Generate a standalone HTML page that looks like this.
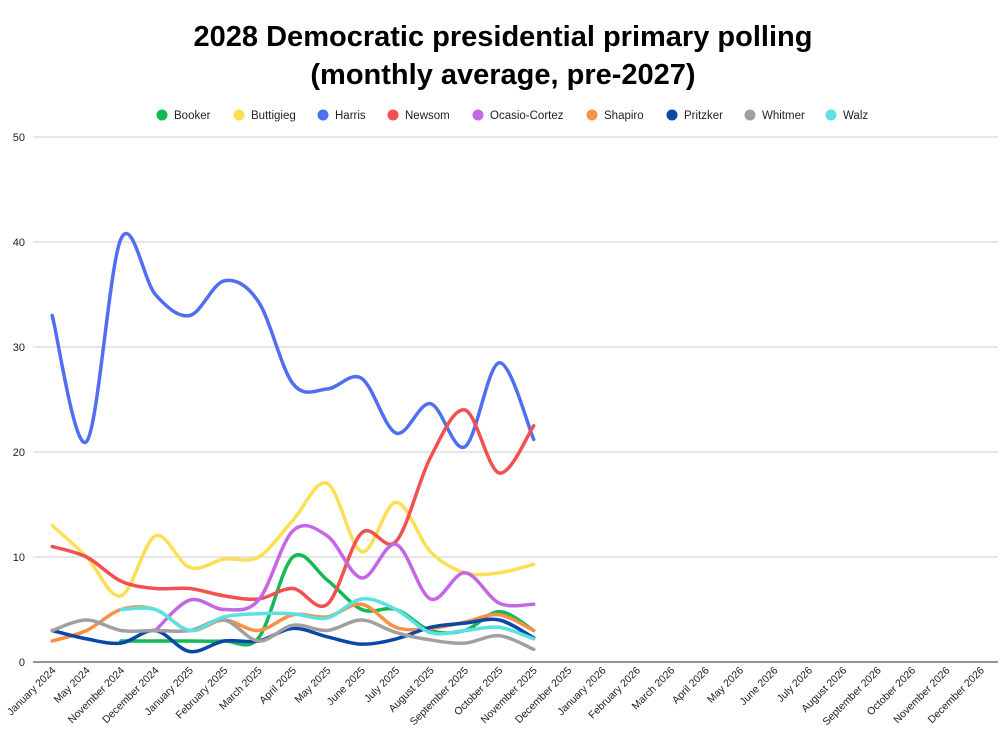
<!DOCTYPE html>
<html><head><meta charset="utf-8"><style>
body{margin:0;background:#fff;font-family:"Liberation Sans",sans-serif}
</style></head><body>
<svg id="c" width="1000" height="750" xmlns="http://www.w3.org/2000/svg" style="font-family:'Liberation Sans',sans-serif">
<text x="503" y="46" text-anchor="middle" font-size="29" font-weight="bold">2028 Democratic presidential primary polling</text>
<text x="503" y="84" text-anchor="middle" font-size="29" font-weight="bold">(monthly average, pre-2027)</text>
<g id="grid"></g><g id="legend"></g><g id="lines"></g><g id="xl"></g>
</svg>
<script>
const categories=["January 2024","May 2024","November 2024","December 2024","January 2025","February 2025","March 2025","April 2025","May 2025","June 2025","July 2025","August 2025","September 2025","October 2025","November 2025","December 2025","January 2026","February 2026","March 2026","April 2026","May 2026","June 2026","July 2026","August 2026","September 2026","October 2026","November 2026","December 2026"];
const yTicks=[0,10,20,30,40,50];
const seriesNames=["Booker","Buttigieg","Harris","Newsom","Ocasio-Cortez","Shapiro","Pritzker","Whitmer","Walz"];
const seriesColors=["#13b955","#fddf56","#4f6ff0","#f25150","#c566e6","#fa8f46","#0b47a6","#a0a0a0","#5be0e3"];
const booker=[null,null,2,2,2,2,2.3,10,7.8,5,5,3,3,4.8,3];
const buttigieg=[13,10,6.3,12,9,9.8,10,13.5,17,10.5,15.2,10.5,8.5,8.5,9.3];
const harris=[33,21,40.3,35,33,36.3,34.3,26.5,26,27,21.8,24.6,20.5,28.5,21.2];
const newsom=[11,10,7.7,7,7,6.3,6,7,5.5,12.3,11.5,19.5,24,18,22.5];
const ocasio=[null,null,null,3,5.9,5,5.9,12.5,12,8,11.2,6,8.5,5.6,5.5];
const shapiro=[2,3,5,5,3,4,3,4.5,4.3,5.5,3.3,3.2,3.8,4.5,3];
const pritzker=[3,2.2,1.8,3,1,2,2,3.2,2.4,1.7,2.2,3.3,3.7,4,2.3];
const whitmer=[3,4,3,3,3,4,2,3.5,3,4,2.8,2.1,1.8,2.5,1.2];
const walz=[null,null,5,5,3,4.3,4.6,4.6,4.2,6,5,2.8,3,3.3,2.2];
const seriesData=[booker,buttigieg,harris,newsom,ocasio,shapiro,pritzker,whitmer,walz];
const NS="http://www.w3.org/2000/svg";
const L=35,R=998,T=137,B=662,yMax=50;
const step=(R-L)/categories.length;
const xs=i=>L+step*(i+0.5);
const ys=v=>B-(v/yMax)*(B-T);
function mk(t,a,p){const e=document.createElementNS(NS,t);for(const k in a)e.setAttribute(k,a[k]);p.appendChild(e);return e;}
const grid=document.getElementById('grid');
yTicks.forEach(v=>{
 const ln=mk('line',{x1:33,x2:R,y1:ys(v),y2:ys(v),stroke:v===0?'#555':'#ccc','stroke-width':v===0?1.3:1},grid);
 
 
 const t=mk('text',{x:25,y:ys(v)+4,'text-anchor':'end','font-size':11,fill:'#222'},grid);
 t.textContent=v;
 
 
});
const xl=document.getElementById('xl');
categories.forEach((c,i)=>{
 const t=mk('text',{x:xs(i)+4,y:671,'text-anchor':'end','font-size':10.5,fill:'#222',transform:`rotate(-45 ${xs(i)+4} 671)`},xl);
 t.textContent=c;
 
 
});
const legX=[162,239,323,393,478,592,672,750,831];
const leg=document.getElementById('legend');
seriesNames.forEach((n,i)=>{
 const g=mk('g',{},leg);
 
 
 mk('circle',{cx:legX[i],cy:115,r:5.5,fill:seriesColors[i]},g);
 const t=mk('text',{x:legX[i]+12,y:119,'font-size':11.5,fill:'#222'},g);
 t.textContent=n;
});
function path(pts){
 if(pts.length<2)return '';
 let d=`M${pts[0][0]},${pts[0][1]}`;
 for(let i=0;i<pts.length-1;i++){
  const p0=pts[i-1]||pts[i],p1=pts[i],p2=pts[i+1],p3=pts[i+2]||p2;
  const k=6;
  d+=` C${p1[0]+(p2[0]-p0[0])/k},${p1[1]+(p2[1]-p0[1])/k} ${p2[0]-(p3[0]-p1[0])/k},${p2[1]-(p3[1]-p1[1])/k} ${p2[0]},${p2[1]}`;
 }
 return d;
}
const lines=document.getElementById('lines');
seriesData.forEach((arr,si)=>{
 const pts=[];arr.forEach((v,i)=>{if(v!=null)pts.push([xs(i),ys(v)]);});
 const p=mk('path',{d:path(pts),fill:'none',stroke:seriesColors[si],'stroke-width':3.5,'stroke-linecap':'round','stroke-linejoin':'round'},lines);
 
 
});
</script>
</body></html>
